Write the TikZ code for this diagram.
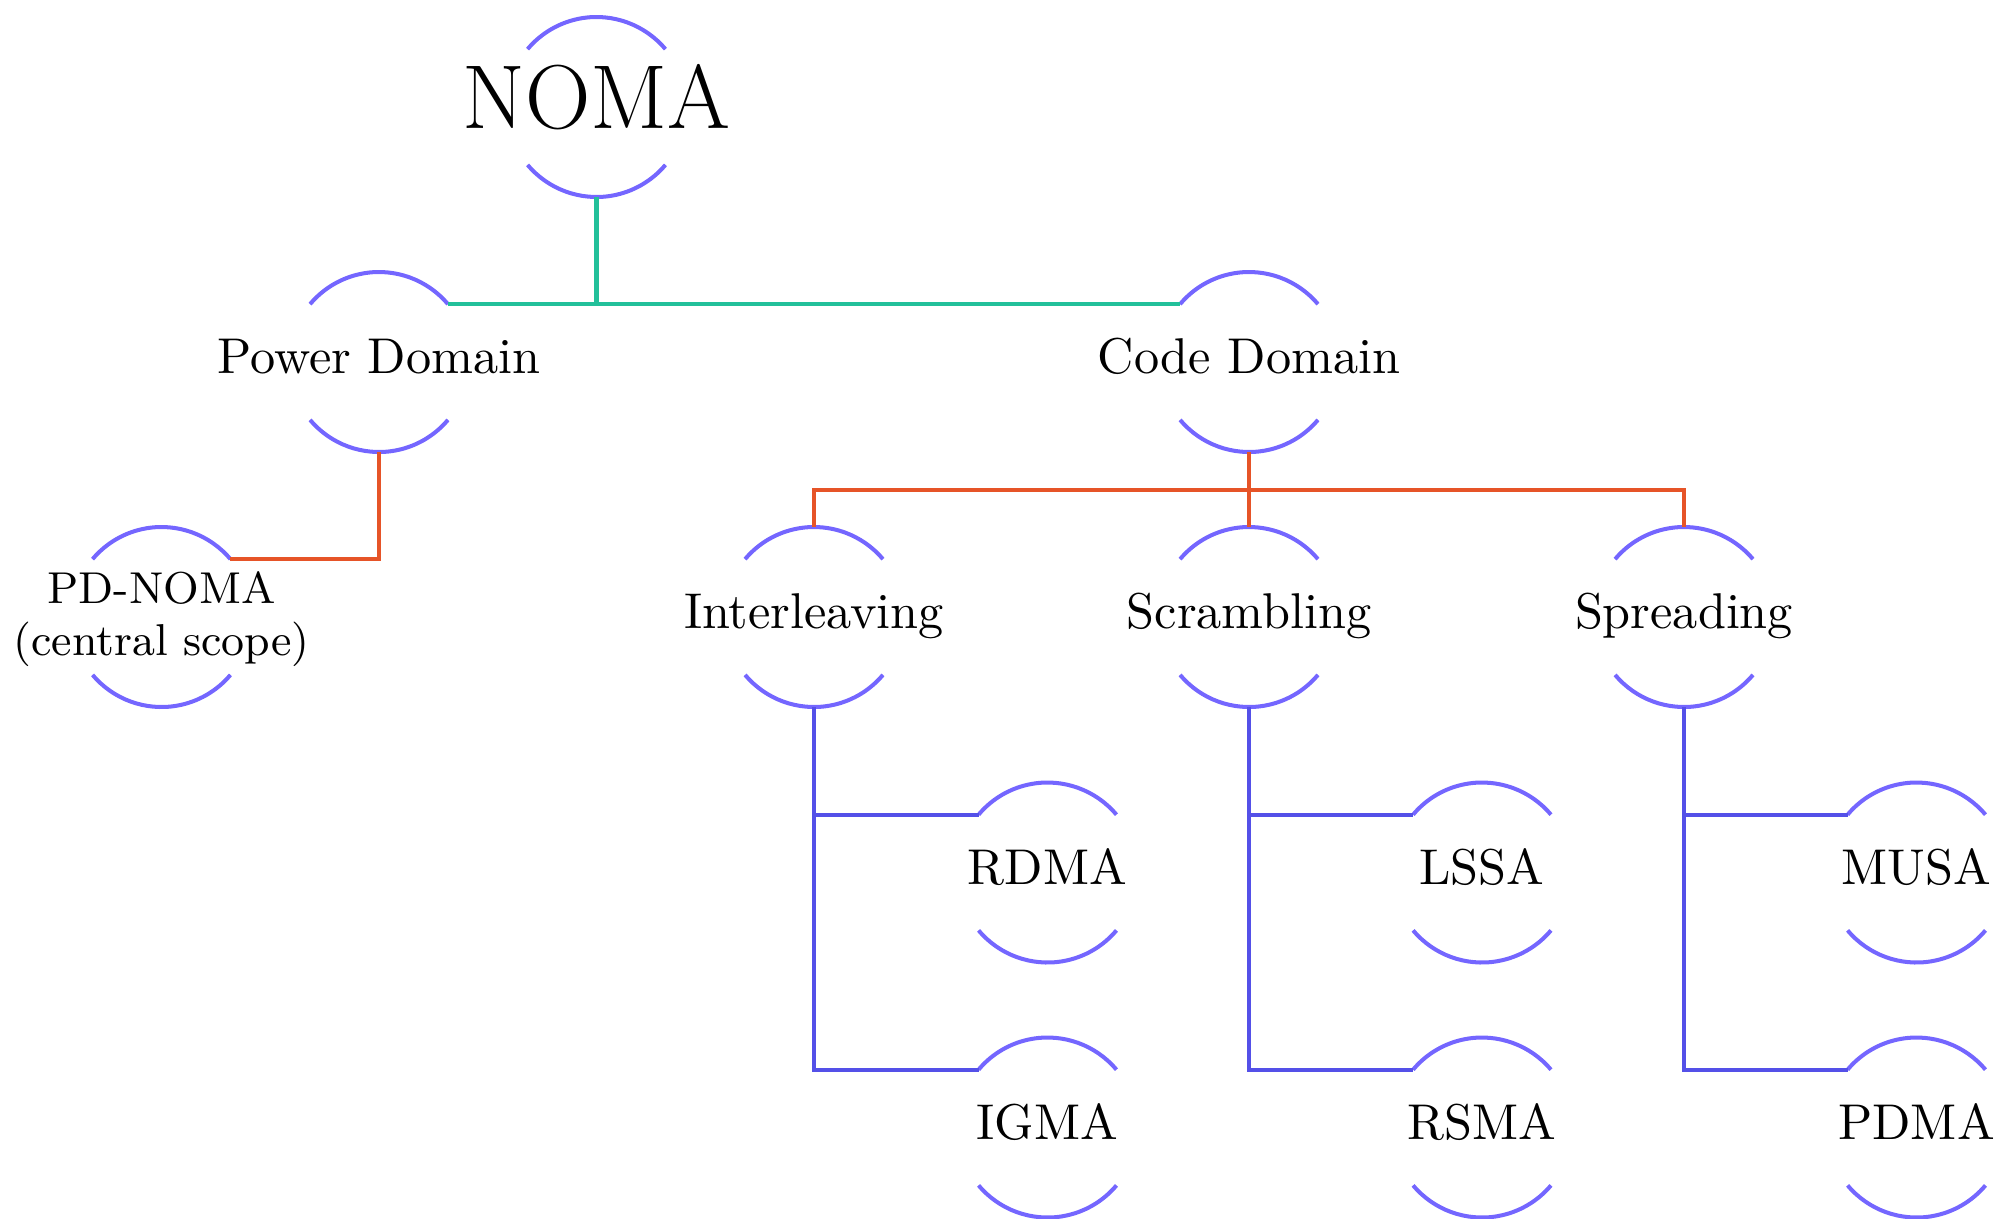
\documentclass[tikz,border=0pt]{standalone}
\usetikzlibrary{calc}
\definecolor{ringcol}{RGB}{116,102,255}
\definecolor{rootline}{RGB}{34,192,154}
\definecolor{midline}{RGB}{230,84,40}
\definecolor{leafline}{RGB}{84,80,232}
\begin{document}
\begin{tikzpicture}[x=0.2039pt,y=0.2039pt,
  ring/.style={circle, minimum size=36.7pt, inner sep=0pt, outer sep=0pt},
  ringarc/.style={draw=ringcol, line width=0.82pt},
  lbl/.style={anchor=base, inner sep=0pt, font={\fontsize{10.25}{12.3}\selectfont}},
  rootconn/.style={draw=rootline, line width=0.85pt},
  midconn/.style={draw=midline, line width=0.85pt},
  leafconn/.style={draw=leafline, line width=0.85pt}]
\useasboundingbox (0,0) rectangle (1994,1218);

% ring positions
\node[ring] (noma) at (596.5,1111) {};
\node[ring] (pd)   at (379,856) {};
\node[ring] (cd)   at (1249,856) {};
\node[ring] (pdn)  at (161.5,601) {};
\node[ring] (il)   at (814,601) {};
\node[ring] (sc)   at (1249,601) {};
\node[ring] (sp)   at (1684,601) {};
\node[ring] (rdma) at (1047.5,345.5) {};
\node[ring] (igma) at (1047.5,90.5) {};
\node[ring] (lssa) at (1482,345.5) {};
\node[ring] (rsma) at (1482,90.5) {};
\node[ring] (musa) at (1916.5,345.5) {};
\node[ring] (pdma) at (1916.5,90.5) {};

% upper and lower arcs of every ring
\foreach \n in {noma,pd,cd,pdn,il,sc,sp,rdma,igma,lssa,rsma,musa,pdma}{
  \draw[ringarc] (\n.40) arc[start angle=40, end angle=140, radius=90];
  \draw[ringarc] (\n.220) arc[start angle=220, end angle=320, radius=90];
}

% labels
\node[lbl, font={\fontsize{18.5}{22}\selectfont}] (noma-t) at ($(noma)+(0,-21.5)$) {NOMA};
\node[lbl] (pd-t)   at ($(pd)+(0,-11.8)$) {Power Domain};
\node[lbl] (cd-t)   at ($(cd)+(0,-11.8)$) {Code Domain};
\node[align=center, inner sep=0pt, font={\fontsize{9.1}{10.7}\selectfont}] (pdn-t)
  at ($(pdn)+(0,-2.3)$) {PD-NOMA\\(central scope)};
\node[lbl] (il-t)   at ($(il)+(0,-11.8)$) {Interleaving};
\node[lbl] (sc-t)   at ($(sc)+(0,-11.8)$) {Scrambling};
\node[lbl] (sp-t)   at ($(sp)+(0,-11.8)$) {Spreading};
\node[lbl] (rdma-t) at ($(rdma)+(0,-11.8)$) {RDMA};
\node[lbl] (igma-t) at ($(igma)+(0,-11.8)$) {IGMA};
\node[lbl] (lssa-t) at ($(lssa)+(0,-11.8)$) {LSSA};
\node[lbl] (rsma-t) at ($(rsma)+(0,-11.8)$) {RSMA};
\node[lbl] (musa-t) at ($(musa)+(0,-11.8)$) {MUSA};
\node[lbl] (pdma-t) at ($(pdma)+(0,-11.8)$) {PDMA};

% connectors
\draw[rootconn] (noma.south) |- (pd.40);
\draw[rootconn] (noma.south) |- (cd.140);
\draw[midconn] (pd.south) |- (pdn.40);
\path (cd.south) -- ++(0,-37.6) coordinate (cdbus);
\draw[midconn] (cd.south) -- (cdbus) -| (il.north);
\draw[midconn] (cdbus) -| (sp.north);
\draw[midconn] (cdbus) -- (sc.north);
\draw[leafconn] (il.south) |- (rdma.140);
\draw[leafconn] (il.south) |- (igma.140);
\draw[leafconn] (sc.south) |- (lssa.140);
\draw[leafconn] (sc.south) |- (rsma.140);
\draw[leafconn] (sp.south) |- (musa.140);
\draw[leafconn] (sp.south) |- (pdma.140);
\end{tikzpicture}
\end{document}
